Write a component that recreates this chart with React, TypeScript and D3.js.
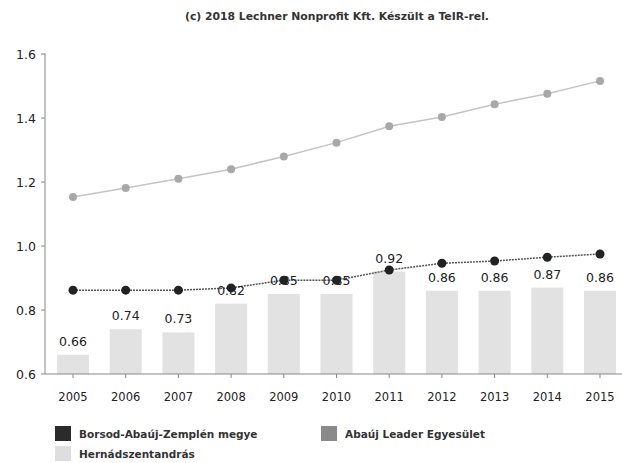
import React from "react";
import * as d3 from "d3";

const years = ["2005", "2006", "2007", "2008", "2009", "2010", "2011", "2012", "2013", "2014", "2015"];
const hernad = [0.66, 0.74, 0.73, 0.82, 0.85, 0.85, 0.92, 0.86, 0.86, 0.87, 0.86];
const borsod = [0.862, 0.862, 0.862, 0.869, 0.893, 0.893, 0.925, 0.946, 0.953, 0.965, 0.975];
const abauj = [1.153, 1.181, 1.21, 1.24, 1.28, 1.323, 1.374, 1.403, 1.443, 1.476, 1.516];
const yTicks = [0.6, 0.8, 1.0, 1.2, 1.4, 1.6];

const font = "'DejaVu Sans', Verdana, sans-serif";

const App = () => {
  const width = 622;
  const height = 463;

  const x = d3.scalePoint().domain(years).range([73, 600]);
  const y = d3.scaleLinear().domain([0.6, 1.6]).range([374, 54]);
  const barW = 32;

  const line = d3
    .line<number>()
    .x((d, i) => x(years[i]) as number)
    .y((d) => y(d));

  return (
    <svg width={width} height={height} style={{ position: "absolute", left: 0, top: 0 }}>
      <rect width={width} height={height} fill="#fff" />
      {/* title */}
      <text x={337} y={20} textAnchor="middle" fontSize="10.8px" fontWeight="bold" fontFamily={font} fill="#333">
        (c) 2018 Lechner Nonprofit Kft. Készült a TeIR-rel.
      </text>

      {/* bars */}
      {hernad.map((v, i) => (
        <rect
          key={i}
          x={(x(years[i]) as number) - barW / 2}
          y={y(v)}
          width={barW}
          height={y(0.6) - y(v)}
          fill="#e2e2e2"
        />
      ))}

      {/* axes */}
      <line x1={45} x2={45} y1={53} y2={374} stroke="#888" />
      <line x1={45} x2={622} y1={374} y2={374} stroke="#888" />
      {yTicks.map((t) => (
        <g key={t}>
          <line x1={41} x2={45} y1={y(t)} y2={y(t)} stroke="#888" />
          <text x={36} y={y(t) + 4.5} textAnchor="end" fontSize="12.5px" fontFamily={font} fill="#222">
            {t.toFixed(1)}
          </text>
        </g>
      ))}
      {years.map((yr) => (
        <g key={yr}>
          <line x1={x(yr)} x2={x(yr)} y1={374} y2={378} stroke="#888" />
          <text x={x(yr)} y={401} textAnchor="middle" fontSize="11.5px" fontFamily={font} fill="#222">
            {yr}
          </text>
        </g>
      ))}

      {/* Abaúj Leader line */}
      <path d={line(abauj) || ""} fill="none" stroke="#c4c4c4" strokeWidth={1.5} />
      {abauj.map((v, i) => (
        <circle key={i} cx={x(years[i])} cy={y(v)} r={4} fill="#a8a8a8" />
      ))}

      {/* Borsod line */}
      <path d={line(borsod) || ""} fill="none" stroke="#555" strokeWidth={1.5} strokeDasharray="2,1" />
      {borsod.map((v, i) => (
        <circle key={i} cx={x(years[i])} cy={y(v)} r={4.5} fill="#222" />
      ))}

      {/* bar labels */}
      {hernad.map((v, i) => (
        <text
          key={i}
          x={x(years[i])}
          y={y(v) - 9}
          textAnchor="middle"
          fontSize="12.5px"
          fontFamily={font}
          fill="#222"
        >
          {v.toFixed(2)}
        </text>
      ))}

      {/* legend */}
      <rect x={55} y={426} width={16} height={15} fill="#2b2b2b" />
      <text x={79} y={438} fontSize="10.5px" fontWeight="bold" fontFamily={font} fill="#333">
        Borsod-Abaúj-Zemplén megye
      </text>
      <rect x={321} y={426} width={16} height={15} fill="#8a8a8a" />
      <text x={345} y={438} fontSize="10.5px" fontWeight="bold" fontFamily={font} fill="#333">
        Abaúj Leader Egyesület
      </text>
      <rect x={55} y={446} width={16} height={15} fill="#dedede" />
      <text x={79} y={458} fontSize="10.5px" fontWeight="bold" fontFamily={font} fill="#333">
        Hernádszentandrás
      </text>
    </svg>
  );
};

export default App;
